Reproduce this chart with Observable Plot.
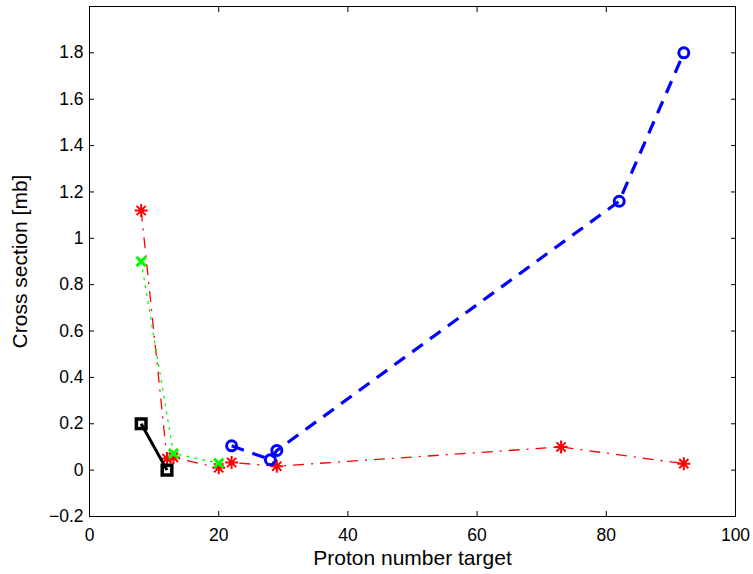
<!DOCTYPE html>
<html>
<head>
<meta charset="utf-8">
<script src="https://cdn.jsdelivr.net/npm/d3@7"></script>
<script src="https://cdn.jsdelivr.net/npm/@observablehq/plot@0.6"></script>
<style>
  html, body { margin: 0; padding: 0; background: #fff; }
  #chart svg { display: block; }
</style>
</head>
<body>
<div id="chart"></div>
<script>
// Proton number of the target (Z) and cross section in mb, one pair of arrays per series
const redZ = [8, 12, 13, 20, 22, 29, 73, 92];
const redSigma = [1.12, 0.05, 0.055, 0.01, 0.033, 0.017, 0.1, 0.028];

const greenZ = [8, 13, 20];
const greenSigma = [0.9, 0.072, 0.03];

const blackZ = [8, 12];
const blackSigma = [0.2, 0.0];

const blueZ = [22, 28, 29, 82, 92];
const blueSigma = [0.105, 0.045, 0.085, 1.16, 1.8];

const xTicks = [0, 20, 40, 60, 80, 100];
const yTicks = [-0.2, 0, 0.2, 0.4, 0.6, 0.8, 1, 1.2, 1.4, 1.6, 1.8];

const xTitle = "Proton number target";
const yTitle = "Cross section [mb]";

const rows = (xs, ys) => xs.map((x, i) => ({x, y: ys[i]}));
const red = rows(redZ, redSigma);
const green = rows(greenZ, greenSigma);
const black = rows(blackZ, blackSigma);
const blue = rows(blueZ, blueSigma);

// Marker shapes drawn as outlines (size is the symbol area, as Plot passes it)
const star = {draw(ctx, size) {
  const r = Math.sqrt(size / Math.PI), d = r * Math.SQRT1_2;
  ctx.moveTo(-r, 0); ctx.lineTo(r, 0);
  ctx.moveTo(0, -r); ctx.lineTo(0, r);
  ctx.moveTo(-d, -d); ctx.lineTo(d, d);
  ctx.moveTo(-d, d); ctx.lineTo(d, -d);
}};
const cross = {draw(ctx, size) {
  const d = Math.sqrt(size / Math.PI) * Math.SQRT1_2;
  ctx.moveTo(-d, -d); ctx.lineTo(d, d);
  ctx.moveTo(-d, d); ctx.lineTo(d, -d);
}};
const box = {draw(ctx, size) {
  const h = Math.sqrt(size / Math.PI);
  ctx.moveTo(-h, -h); ctx.lineTo(h, -h); ctx.lineTo(h, h); ctx.lineTo(-h, h); ctx.closePath();
}};
const ring = {draw(ctx, size) {
  const r = Math.sqrt(size / Math.PI);
  ctx.moveTo(r, 0); ctx.arc(0, 0, r, 0, 2 * Math.PI);
}};

const fmt = d => (d < 0 ? "\u2212" : "") + String(+Math.abs(d).toFixed(1));
const font = "'Liberation Sans', Arial, Helvetica, sans-serif";

const chart = Plot.plot({
  width: 753,
  height: 574,
  marginLeft: 89,
  marginRight: 18,
  marginTop: 6,
  marginBottom: 58,
  style: {fontFamily: font, fontSize: "17px", color: "#000", background: "#fff"},
  x: {domain: [0, 100]},
  y: {domain: [-0.2, 2]},
  marks: [
    // tick marks point inward on all four sides
    Plot.axisX(xTicks, {anchor: "bottom", tickSize: -5, tickPadding: 17, tickFormat: fmt, fontSize: 17.5, label: null}),
    Plot.axisX(xTicks, {anchor: "top", tickSize: -5, tickFormat: () => "", label: null}),
    Plot.axisY(yTicks, {anchor: "left", tickSize: -5, tickPadding: 11, tickFormat: fmt, fontSize: 17.5, label: null}),
    Plot.axisY(yTicks, {anchor: "right", tickSize: -5, tickFormat: () => "", label: null}),
    Plot.frame({stroke: "#000", strokeWidth: 1}),

    Plot.line(red, {x: "x", y: "y", stroke: "#ff0000", strokeWidth: 1.3, strokeDasharray: "11,7,2,7", strokeLinecap: "butt"}),
    Plot.dot(red, {x: "x", y: "y", symbol: star, r: 6.5, stroke: "#ff0000", fill: "none", strokeWidth: 2}),

    Plot.line(green, {x: "x", y: "y", stroke: "#00ff00", strokeWidth: 1.3, strokeDasharray: "3,5", strokeLinecap: "butt"}),
    Plot.dot(green, {x: "x", y: "y", symbol: cross, r: 6.5, stroke: "#00ff00", fill: "none", strokeWidth: 3}),

    Plot.line(black, {x: "x", y: "y", stroke: "#000", strokeWidth: 3, strokeLinecap: "butt"}),
    Plot.dot(black, {x: "x", y: "y", symbol: box, r: 4.8, stroke: "#000", fill: "none", strokeWidth: 3.5, strokeLinejoin: "miter"}),

    Plot.line(blue, {x: "x", y: "y", stroke: "#0000ff", strokeWidth: 3.2, strokeDasharray: "13,9", strokeLinecap: "butt"}),
    Plot.dot(blue, {x: "x", y: "y", symbol: ring, r: 5, stroke: "#0000ff", fill: "none", strokeWidth: 3}),

    Plot.text([xTitle], {frameAnchor: "bottom", dy: 42, text: d => d, fontSize: 21, lineAnchor: "middle"}),
    Plot.text([yTitle], {frameAnchor: "left", dx: -69, text: d => d, fontSize: 21, rotate: -90, textAnchor: "middle", lineAnchor: "middle"})
  ]
});

document.getElementById("chart").appendChild(chart);
</script>
</body>
</html>
